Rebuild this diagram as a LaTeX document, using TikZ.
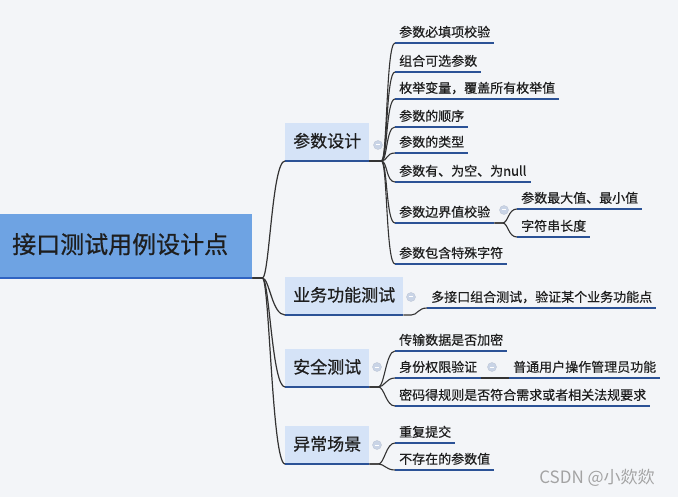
\documentclass[tikz,border=0pt]{standalone}
\usepackage{fontspec}
\newfontfamily\cjk{Noto Sans CJK SC}
\newfontfamily\cjkb[FakeBold=0.7]{Noto Sans CJK SC}
\newfontfamily\cjkl[FakeBold=0.4]{Noto Sans CJK SC}
\usetikzlibrary{calc}
\definecolor{bg}{HTML}{F3F5F8}
\definecolor{rootfill}{HTML}{6EA3E3}
\definecolor{brfill}{HTML}{D5E3F7}
\definecolor{ulinec}{HTML}{2B5296}
\definecolor{rootline}{HTML}{2F63C2}
\definecolor{connc}{HTML}{333333}
\definecolor{iconc}{HTML}{C9D4E6}
\definecolor{wmark}{HTML}{A3A3A3}
\definecolor{txt}{HTML}{1E1E1E}
\begin{document}
\begin{tikzpicture}[x=1pt,y=-1pt,
  rootbox/.style={fill=rootfill, anchor=south west, inner xsep=12pt, inner ysep=0pt,
    text width=228pt, align=left, minimum height=64pt, text=txt,
    font=\cjkb\fontsize{24}{24}\selectfont, text height=19pt, text depth=4pt},
  brbox/.style={fill=brfill, anchor=south west, inner xsep=8pt, inner ysep=0pt,
    minimum height=38pt, font=\cjkb\fontsize{17}{17}\selectfont, text=txt,
    text height=14pt, text depth=3pt},
  leaf/.style={anchor=south west, inner xsep=4pt, inner ysep=3pt, text=txt,
    font=\cjkl\fontsize{13}{13}\selectfont, text height=10pt, text depth=3pt},
  uln/.style={draw=ulinec, line width=1.6pt},
  rootuln/.style={draw=rootline, line width=1.4pt},
  linkto/.style={draw=connc, line width=1.1pt,
    to path={-- ++(#1,0) .. controls +(6,0) and +(-9,0) .. (\tikztotarget)}},
  linkto/.default=12,
  rootlink/.style={draw=connc, line width=1.2pt,
    to path={-- ++(10,0) .. controls +(7,0) and +(-13,0) .. (\tikztotarget)}},
  fold/.style={circle, fill=iconc, draw=iconc!85!gray, line width=0.4pt,
    minimum size=9pt, inner sep=0pt,
    path picture={\draw[white, line width=1pt]
      ($(path picture bounding box.west)+(2.2pt,0)$) --
      ($(path picture bounding box.east)+(-2.2pt,0)$);}}
]
\useasboundingbox[fill=bg] (0,0) rectangle (678,497);

% root
\node[rootbox] (root) at (0,278) {接口测试用例设计点};
\draw[rootuln] (root.south west) -- (root.south east);

% branches
\node[brbox] (b1) at (285,161) {参数设计};
\node[brbox] (b2) at (285,315) {业务功能测试};
\node[brbox] (b3) at (285,387) {安全测试};
\node[brbox] (b4) at (285,464) {异常场景};
\foreach \b in {b1,b2,b3,b4}{\draw[uln] (\b.south west) -- (\b.south east);}

\foreach \b in {b1,b2,b3,b4}{\draw[rootlink] (root.south east) to (\b.south west);}

% fold icons
\node[fold] (f1) at (378,145) {};
\node[fold] (f2) at (411,297) {};
\node[fold] (f3) at (377,367) {};
\node[fold] (f4) at (377,445) {};
\node[fold] (f17) at (504,210) {};
\node[fold] (f32) at (492,367) {};

% group 1 leaves
\node[leaf] (l11) at (395,43) {参数必填项校验};
\node[leaf] (l12) at (395,72) {组合可选参数};
\node[leaf] (l13) at (395,99) {枚举变量，覆盖所有枚举值};
\node[leaf] (l14) at (395,127) {参数的顺序};
\node[leaf] (l15) at (395,153) {参数的类型};
\node[leaf] (l16) at (395,182) {参数有、为空、为null};
\node[leaf] (l17) at (395,223) {参数边界值校验};
\node[leaf] (l18) at (395,264) {参数包含特殊字符};
\node[leaf] (l171) at (517,209) {参数最大值、最小值};
\node[leaf] (l172) at (517,237) {字符串长度};

% group 2
\node[leaf] (l21) at (427,308) {多接口组合测试，验证某个业务功能点};

% group 3
\node[leaf] (l31) at (395,351) {传输数据是否加密};
\node[leaf] (l32) at (395,378) {身份权限验证};
\node[leaf] (l33) at (395,406) {密码得规则是否符合需求或者相关法规要求};
\node[leaf] (l321) at (509,378) {普通用户操作管理员功能};

% group 4
\node[leaf] (l41) at (395,443) {重复提交};
\node[leaf] (l42) at (395,470) {不存在的参数值};

\foreach \l in {l11,l12,l13,l14,l15,l16,l17,l18,l171,l172,l21,l31,l32,l33,l321,l41,l42}
  {\draw[uln] (\l.south west) -- (\l.south east);}

% connectors
\foreach \l in {l11,l12,l13,l14,l15,l16,l17,l18}{\draw[linkto] (b1.south east) to (\l.south west);}
\foreach \l in {l171,l172}{\draw[linkto=8] (l17.south east) to (\l.south west);}
\draw[linkto=8] (b2.south east) to (l21.south west);
\foreach \l in {l31,l32,l33}{\draw[linkto=9] (b3.south east) to (\l.south west);}
\draw[draw=connc, line width=1.1pt] (l32.south east) -- (l321.south west);
\foreach \l in {l41,l42}{\draw[linkto=9] (b4.south east) to (\l.south west);}

% watermark
\node[font=\cjk\fontsize{17}{17}\selectfont, text=wmark, inner sep=0pt] (wm) at (597,478) {CSDN @小欻欻};
\end{tikzpicture}
\end{document}
